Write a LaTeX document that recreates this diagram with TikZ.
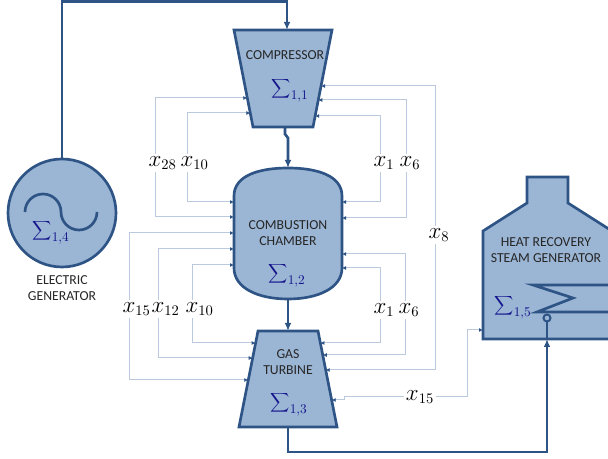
\documentclass[tikz,border=0pt]{standalone}
\usepackage{fontspec}
\setsansfont{Carlito}
\usetikzlibrary{arrows.meta}
\definecolor{blkfill}{RGB}{155,181,212}
\definecolor{blkline}{RGB}{46,84,133}
\definecolor{linkc}{RGB}{186,201,221}
\definecolor{sigc}{RGB}{20,20,140}
\tikzset{
  blk/.style={draw=blkline, fill=blkfill, line width=2pt},
  wire/.style={draw=blkline, line width=2pt},
  link/.style={draw=linkc, line width=0.75pt},
  toblk/.style={-{Latex[length=3pt,width=3pt,color=blkline]}},
  fromblk/.style={{Latex[length=3pt,width=3pt,color=blkline]}-},
  lab/.style={fill=white, inner sep=1.5pt, font=\fontsize{16}{19}\selectfont},
  tag/.style={font=\sffamily\fontsize{10.3}{12}\selectfont, align=center, text=black!85},
  sig/.style={text=sigc, font=\fontsize{14.5}{17}\selectfont, inner sep=0pt}
}
\newcommand{\sgm}[1]{$\displaystyle\sum\nolimits_{\scriptstyle #1}$}
\newcommand{\xs}[1]{$x\rlap{$_{#1}$}$}

\begin{document}
\begin{tikzpicture}[x=0.75pt, y=-0.75pt, >={Latex[length=6pt,width=5pt]}]
    \useasboundingbox (0,0) rectangle (608,459);
    \clip (0,0) rectangle (608,459);
    % blocks
    \draw[blk] (234,30) -- (332,30) -- (313,127) -- (253,127) -- cycle;
    \node[tag] (cmptxt) at (285,55) {COMPRESSOR};
    \node[sig] (cmpsig) at (290,90) {\sgm{1,1}};
    \draw[blk] (234,196) .. controls (234,176) and (258,168) .. (288,168)
        .. controls (318,168) and (342,176) .. (342,196) -- (342,268)
        .. controls (342,288) and (318,299) .. (288,299)
        .. controls (258,299) and (234,288) .. (234,268) -- cycle;
    \node[tag] (cctxt) at (288,233) {COMBUSTION\\CHAMBER};
    \node[sig] (ccsig) at (287,275) {\sgm{1,2}};
    \draw[blk] (258,331) -- (318,331) -- (337,427) -- (239,427) -- cycle;
    \node[tag] (gttxt) at (288,362) {GAS\\TURBINE};
    \node[sig] (gtsig) at (289,404) {\sgm{1,3}};
    \node[blk, circle, minimum size=81pt, inner sep=0pt] (gen) at (62,213) {};
    \draw[blkline, line width=2pt] (25,212) arc[start angle=180, end angle=360, radius=18]
        arc[start angle=180, end angle=0, radius=18];
    \node[sig] (gensig) at (51,232) {\sgm{1,4}};
    \node[tag] (gentxt) at (62,288) {ELECTRIC\\GENERATOR};
    \draw[blk] (483,339) -- (483,231) -- (527,203) -- (527,177) -- (568,177)
        -- (568,203) -- (612,231) -- (612,339) -- cycle;
    \node[tag] (hrtxt) at (546,250) {HEAT RECOVERY\\STEAM GENERATOR};
    \node[sig] (hrsig) at (513,307) {\sgm{1,5}};
    \draw[blkline, line width=2pt] (612,285) -- (533,285) -- (573,298) -- (537,312) -- (612,312);
    % ports
    \coordinate (cmp-top) at (287,30);
    \coordinate (cmp-bot) at (285,127);
    \coordinate (cc-top) at (288,168);
    \coordinate (cc-bot) at (288,299);
    \coordinate (gt-top) at (288,331);
    \coordinate (gt-bot) at (288,427);
    \coordinate (hr-port) at (547,339);
    \coordinate (hr-in) at (483,330);
    \coordinate (cmp-l1) at (247.3,98);
    \coordinate (cmp-l2) at (250.3,113);
    \coordinate (cmp-r1) at (321,86);
    \coordinate (cmp-r2) at (318.3,100);
    \coordinate (cmp-r3) at (315.2,116);
    \coordinate (cc-l1) at (234,202);
    \coordinate (cc-l2) at (234,217);
    \coordinate (cc-l3) at (234,233);
    \coordinate (cc-l4) at (234,249);
    \coordinate (cc-l5) at (234,265);
    \coordinate (cc-r1) at (342,202);
    \coordinate (cc-r2) at (342,218);
    \coordinate (cc-r3) at (342,254);
    \coordinate (cc-r4) at (342,268);
    \coordinate (gt-l1) at (255.6,343);
    \coordinate (gt-l2) at (252.7,358);
    \coordinate (gt-l3) at (248.3,380);
    \coordinate (gt-r1) at (320.4,343);
    \coordinate (gt-r2) at (322.8,355);
    \coordinate (gt-r3) at (325.7,370);
    \coordinate (gt-r4) at (331.7,400);
    % main wires
    \draw[wire,->] (gen.north) |- (287,1.5) -- (cmp-top);
    \draw[wire,->] (cmp-bot) -- (285,134) -- (288,138) -- (cc-top);
    \draw[wire,->] (cc-bot) -- (gt-top);
    \draw[wire,->] (gt-bot) -- (288,452) -| (hr-port);
    \draw[wire] (hr-port) -- (547,321);
    \draw[blkline, line width=1.5pt, fill=blkfill] (547,318) circle[radius=3.5];
    % stream labels
    \node[lab] (x28) at (155,163) {\xs{28}};
    \node[lab] (x10t) at (187,163) {\xs{10}};
    \node[lab] (x1t) at (380,163) {\xs{1}};
    \node[lab] (x6t) at (406,163) {\xs{6}};
    \node[lab] (x8) at (435,235) {\xs{8}};
    \node[lab] (x15l) at (129,309) {\xs{15}};
    \node[lab] (x12) at (158,309) {\xs{12}};
    \node[lab] (x10b) at (192,309) {\xs{10}};
    \node[lab] (x1b) at (380,310) {\xs{1}};
    \node[lab] (x6b) at (405,310) {\xs{6}};
    \node[lab] (x15b) at (420,397) {$x_{15}$};
    % streams
    \draw[link,fromblk] (cmp-l1) -| (x28);
    \draw[link,toblk] (x28) |- (cc-l2);
    \draw[link,fromblk] (cmp-l2) -| (x10t);
    \draw[link,toblk] (x10t) |- (cc-l1);
    \draw[link,fromblk] (cmp-r3) -| (x1t);
    \draw[link,toblk] (x1t) |- (cc-r1);
    \draw[link,fromblk] (cmp-r2) -| (x6t);
    \draw[link,toblk] (x6t) |- (cc-r2);
    \draw[link,fromblk] (cmp-r1) -| (x8);
    \draw[link,toblk] (x8) |- (gt-r3);
    \draw[link,fromblk] (cc-l3) -| (x15l);
    \draw[link,toblk] (x15l) |- (gt-l3);
    \draw[link,fromblk] (cc-l4) -| (x12);
    \draw[link,toblk] (x12) |- (gt-l2);
    \draw[link,fromblk] (cc-l5) -| (x10b);
    \draw[link,toblk] (x10b) |- (gt-l1);
    \draw[link,fromblk] (cc-r4) -| (x1b);
    \draw[link,toblk] (x1b) |- (gt-r1);
    \draw[link,fromblk] (cc-r3) -| (x6b);
    \draw[link,toblk] (x6b) |- (gt-r2);
    \draw[link,fromblk] (gt-r4) -- (344,400) |- (x15b);
    \draw[link,toblk] (x15b) -| (467,330) -- (hr-in);
\end{tikzpicture}
\end{document}
